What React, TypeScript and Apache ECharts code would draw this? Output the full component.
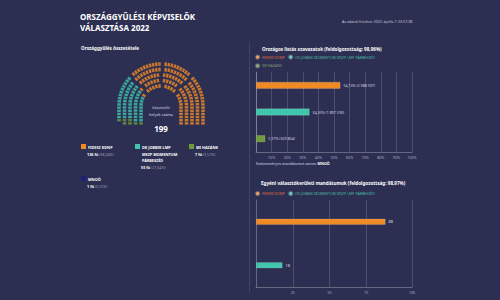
import { useEffect, useRef } from 'react';
import * as echarts from 'echarts';

// ---- data ----
const seatParties = ['FIDESZ KDNP', 'DK JOBBIK MOMENTUM MSZP LMP PÁRBESZÉD', 'MI HAZÁNK', 'MNOÖ'];
const seatCounts = [136, 55, 7, 1];
const seatPercents = ['68,34%', '27,64%', '3,52%', '0,50%'];
const seatLegendLines = [['FIDESZ KDNP'], ['DK JOBBIK LMP', 'MSZP MOMENTUM', 'PÁRBESZÉD'], ['MI HAZÁNK'], ['MNOÖ']];
const seatFillOrder = [3, 2, 1, 0];
const partyColors = ['#f08a24', '#3fc6ad', '#6f9b3b', '#1d2272'];
const legendTextColors = ['#e2683f', '#49b5a5', '#819a6c'];

const listParties = ['FIDESZ KDNP', 'DK JOBBIK MOMENTUM MSZP LMP PÁRBESZÉD', 'MI HAZÁNK'];
const listPercent = [54.10, 34.35, 5.97];
const listVotes = [2988597, 1897590, 329804];

const smdParties = ['FIDESZ KDNP', 'DK JOBBIK MOMENTUM MSZP LMP PÁRBESZÉD'];
const smdSeats = [88, 18];
const smdMax = 106;
const smdTicks = [25, 50, 75, 106];

const FONT = '"Noto Sans", sans-serif';
const BG = '#2d2f52';

function fmtThousands(n: number) {
  return String(n).replace(/\B(?=(\d{3})+(?!\d))/g, ' ');
}

function buildSeats() {
  const cx = 161, cy = 106, V = 19, g = 3;
  const radii = [42, 36.5, 31, 25.5, 20];
  const total = seatCounts.reduce((a, b) => a + b, 0);
  const usable = radii.map((r) => Math.PI * r + 2 * V - 3 * g);
  const sumU = usable.reduce((a, b) => a + b, 0);
  const raw = usable.map((u) => (u / sumU) * total);
  const n = raw.map((v) => Math.floor(v));
  let rem = total - n.reduce((a, b) => a + b, 0);
  const ord = raw.map((v, i) => [v - Math.floor(v), i]).sort((a, b) => b[0] - a[0]);
  for (let i = 0; i < rem; i++) n[ord[i][1]]++;
  const seats: any[] = [];
  radii.forEach((r, ri) => {
    const L = Math.PI * r + 2 * V;
    const q = (r * Math.PI) / 4;
    const segs = [V + q - g / 2, q - g, q - g, q + V - g / 2];
    const U = usable[ri];
    for (let k = 0; k < n[ri]; k++) {
      const u = ((k + 0.5) * U) / n[ri];
      let acc = 0, passed = 0;
      for (let j = 0; j < 3; j++) {
        if (u > acc + segs[j]) { acc += segs[j]; passed++; } else break;
      }
      const s = u + passed * g;
      let x, y, rot;
      if (s < V) { x = cx - r; y = cy + V - s; rot = 0; }
      else if (s <= V + Math.PI * r) {
        const phi = Math.PI - (s - V) / r;
        x = cx + r * Math.cos(phi); y = cy - r * Math.sin(phi); rot = (phi * 180) / Math.PI;
      } else { x = cx + r; y = cy + (s - V - Math.PI * r); rot = 0; }
      seats.push({ t: s / L, ri, x, y, rot });
    }
  });
  seats.sort((a, b) => a.t - b.t || a.ri - b.ri);
  const byParty: any[][] = seatParties.map(() => []);
  let idx = 0;
  seatFillOrder.forEach((p) => {
    for (let k = 0; k < seatCounts[p]; k++) {
      const s = seats[idx++];
      byParty[p].push({ value: [s.x, s.y], symbolRotate: s.rot });
    }
  });
  return byParty;
}

export default function App() {
  const ref = useRef<HTMLDivElement>(null);
  useEffect(() => {
    if (!ref.current) return;
    const chart = echarts.init(ref.current, null, { renderer: 'svg' });
    const seatsByParty = buildSeats();
    const gridLine = 'rgba(255,255,255,0.22)';
    const axisLine = 'rgba(255,255,255,0.35)';
    const labelColor = '#a9abc6';

    const seatSeries = seatParties.map((p, i) => ({
      type: 'scatter',
      name: 'seat ' + p,
      xAxisIndex: 0,
      yAxisIndex: 0,
      symbol: 'rect',
      symbolSize: [3.6, 2.4],
      silent: true,
      itemStyle: { color: partyColors[i] },
      data: seatsByParty[i],
    }));

    const listSeries = listParties.map((p, i) => ({
      type: 'bar',
      name: p,
      xAxisIndex: 1,
      yAxisIndex: 1,
      barWidth: 7,
      barGap: '-100%',
      itemStyle: { color: partyColors[i], borderColor: 'rgba(255,255,255,0.25)', borderWidth: 0.6 },
      label: {
        show: true,
        position: 'right',
        distance: 3,
        fontSize: 3.6,
        fontFamily: FONT,
        color: '#d6d7e6',
        formatter: () => `${listPercent[i].toFixed(2).replace('.', ',')}% (${fmtThousands(listVotes[i])})`,
      },
      data: listParties.map((_, j) => (j === i ? listPercent[i] : '-')),
    }));

    const smdSeries = smdParties.map((p, i) => ({
      type: 'bar',
      name: p,
      xAxisIndex: 2,
      yAxisIndex: 2,
      barWidth: 6,
      barGap: '-100%',
      itemStyle: { color: partyColors[i], borderColor: 'rgba(255,255,255,0.25)', borderWidth: 0.6 },
      label: {
        show: true,
        position: 'right',
        distance: 3,
        fontSize: 3.8,
        fontFamily: FONT,
        color: '#d6d7e6',
        formatter: () => String(smdSeats[i]),
      },
      data: smdParties.map((_, j) => (j === i ? smdSeats[i] : '-')),
    }));

    const txt = (x: number, y: number, text: string, size: number, opts: any = {}) => ({
      type: 'text',
      x,
      y,
      silent: true,
      style: {
        text,
        fontSize: size,
        fontFamily: FONT,
        fill: '#ffffff',
        verticalAlign: 'middle',
        ...opts,
      },
    });

    const legendPos = [
      [81, 144],
      [135, 144],
      [189, 144],
      [81, 176],
    ];
    const legendGraphics: any[] = [];
    seatParties.forEach((p, i) => {
      const [lx, ly] = legendPos[i];
      legendGraphics.push({
        type: 'rect',
        silent: true,
        shape: { x: lx, y: ly, width: 5, height: 5 },
        style: { fill: partyColors[i] },
      });
      const lines = seatLegendLines[i];
      legendGraphics.push(
        txt(lx + 7, ly + 3, lines.join('\n'), 3.8, { fontWeight: 'bold', lineHeight: 6.5, verticalAlign: 'top', y: undefined })
      );
      legendGraphics[legendGraphics.length - 1].y = ly + 0.6;
      legendGraphics.push(
        txt(lx + 6, ly + 3 + lines.length * 6.5 + 0.5, `{b|${seatCounts[i]} fő} {g|(${seatPercents[i]})}`, 3.8, {
          rich: {
            b: { fontWeight: 'bold', fill: '#ffffff', fontSize: 3.8, fontFamily: FONT },
            g: { fill: '#9a9cb8', fontSize: 3.6, fontFamily: FONT },
          },
        })
      );
    });

    const option: any = {
      animation: false,
      backgroundColor: BG,
      textStyle: { fontFamily: FONT },
      grid: [
        { left: 0, top: 0, width: 500, height: 300 },
        { left: 256, top: 72, width: 156, height: 80 },
        { left: 256, top: 200, width: 156, height: 87 },
      ],
      xAxis: [
        { type: 'value', gridIndex: 0, min: 0, max: 500, show: false },
        {
          type: 'value', gridIndex: 1, min: 0, max: 100, interval: 10,
          axisLine: { show: true, lineStyle: { color: axisLine, width: 0.8 } },
          axisTick: { show: false },
          axisLabel: { fontSize: 3.6, color: labelColor, margin: 3, showMinLabel: false, formatter: (v: number) => v + '%' },
          splitLine: { show: true, lineStyle: { color: gridLine, width: 0.7 } },
        },
        {
          type: 'value', gridIndex: 2, min: 0, max: smdMax,
          axisLine: { show: true, lineStyle: { color: axisLine, width: 0.8 } },
          axisTick: { show: false, customValues: smdTicks },
          axisLabel: { fontSize: 3.6, color: labelColor, margin: 3, customValues: smdTicks },
          splitLine: { show: true, lineStyle: { color: gridLine, width: 0.7 } },
        },
      ],
      yAxis: [
        { type: 'value', gridIndex: 0, min: 0, max: 300, inverse: true, show: false },
        {
          type: 'category', gridIndex: 1, data: listParties, inverse: true,
          axisLine: { show: true, lineStyle: { color: axisLine, width: 0.8 } },
          axisTick: { show: false }, axisLabel: { show: false },
        },
        {
          type: 'category', gridIndex: 2, data: smdParties, inverse: true,
          axisLine: { show: true, lineStyle: { color: axisLine, width: 0.8 } },
          axisTick: { show: false }, axisLabel: { show: false },
        },
      ],
      legend: [
        {
          data: listParties.map((n, i) => ({ name: n, textStyle: { color: legendTextColors[i] } })),
          left: 255, top: 54.5, width: 140, padding: 0,
          icon: 'circle', itemWidth: 3.2, itemHeight: 3.2, itemGap: 3.5,
          textStyle: { fontSize: 3.6, fontFamily: FONT, padding: [0, 0, 0, -2] },
          selectedMode: false,
        },
        {
          data: smdParties.map((n, i) => ({ name: n, textStyle: { color: legendTextColors[i] } })),
          left: 255, top: 191, width: 160, padding: 0,
          icon: 'circle', itemWidth: 3.2, itemHeight: 3.2, itemGap: 3.5,
          textStyle: { fontSize: 3.6, fontFamily: FONT, padding: [0, 0, 0, -2] },
          selectedMode: false,
        },
      ],
      graphic: [
        txt(80, 16, 'ORSZÁGGYŰLÉSI KÉPVISELŐK', 8, { fontWeight: 'bold' }),
        txt(80, 27, 'VÁLASZTÁSA 2022', 8, { fontWeight: 'bold' }),
        txt(342, 21, 'Az adatok frissítve: 2022. április 7. 03:57:38', 3.5, { fill: '#c9cadc' }),
        txt(81, 48, 'Országgyűlés összetétele', 4.6, { fontWeight: 'bold' }),
        txt(161, 107, 'képviselői', 3.8, { align: 'center', fill: '#d9dae8' }),
        txt(161, 114, 'helyek száma', 3.8, { align: 'center', fill: '#d9dae8' }),
        txt(161, 128, '199', 8, { align: 'center', fontWeight: 'bold' }),
        ...legendGraphics,
        {
          type: 'line', silent: true,
          shape: { x1: 249.5, y1: 43, x2: 249.5, y2: 292 },
          style: { stroke: 'rgba(255,255,255,0.15)', lineWidth: 0.7 },
        },
        txt(262, 49, 'Országos listás szavazatok (feldolgozottság: 98,96%)', 4.6, { fontWeight: 'bold' }),
        txt(256, 163, '{n|Kedvezményes mandátumot szerez: }{b|MNOÖ}', 3.6, {
          rich: {
            n: { fill: '#d9dae8', fontSize: 3.6, fontFamily: FONT },
            b: { fill: '#ffffff', fontSize: 3.6, fontWeight: 'bold', fontFamily: FONT },
          },
        }),
        txt(261, 183, 'Egyéni választókerületi mandátumok (feldolgozottság: 98,97%)', 4.6, { fontWeight: 'bold' }),
      ],
      series: [...seatSeries, ...listSeries, ...smdSeries],
    };
    chart.setOption(option);
    return () => chart.dispose();
  }, []);
  return (
    <div
      ref={ref}
      style={{ position: 'fixed', left: 0, top: 0, width: 500, height: 300, background: BG }}
    />
  );
}
